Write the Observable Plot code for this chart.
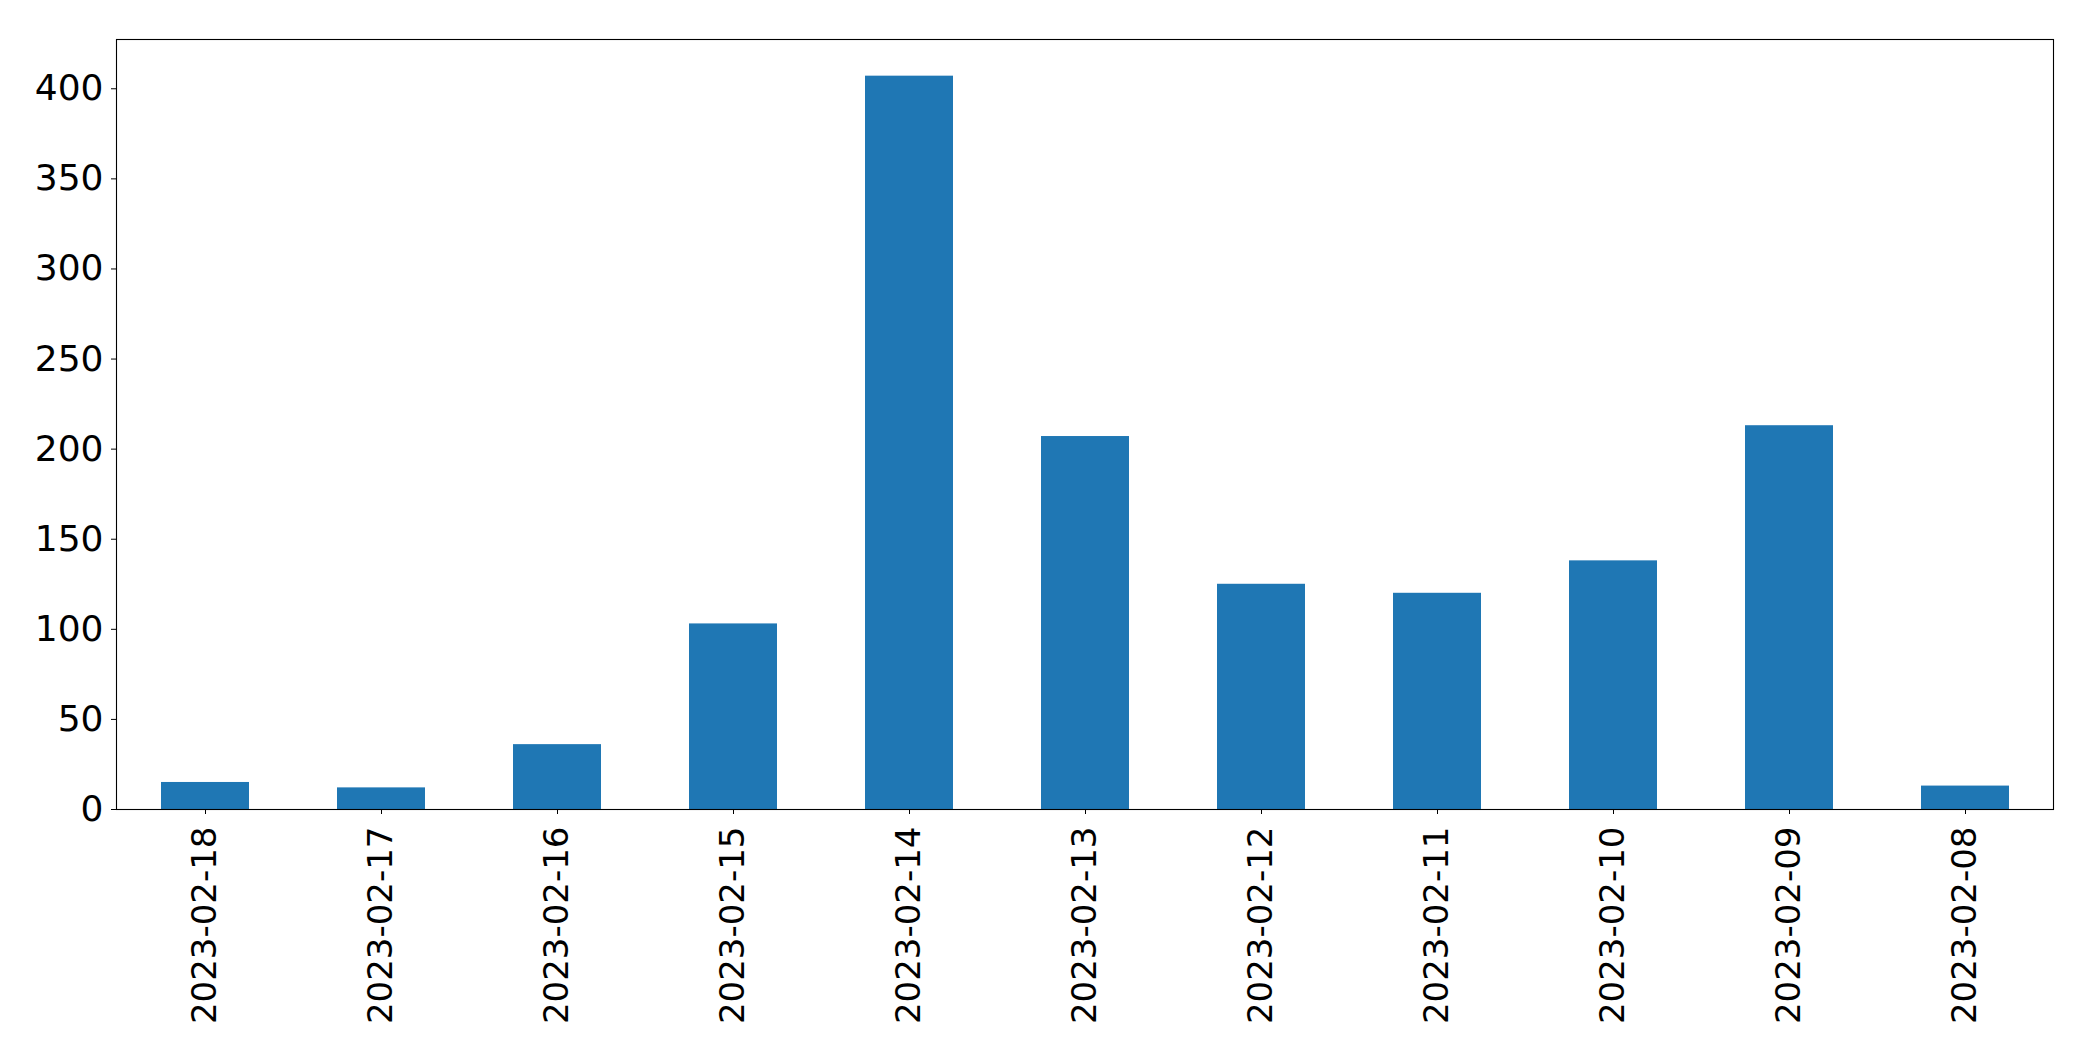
<!DOCTYPE html>
<html>
<head>
<meta charset="utf-8">
<script src="https://cdn.jsdelivr.net/npm/d3@7"></script>
<script src="https://cdn.jsdelivr.net/npm/@observablehq/plot@0.6"></script>
<style>
  html, body { margin: 0; padding: 0; background: #fff; }
  #chart svg { display: block; }
</style>
</head>
<body>
<div id="chart"></div>
<script>
const dates = ["2023-02-18","2023-02-17","2023-02-16","2023-02-15","2023-02-14","2023-02-13","2023-02-12","2023-02-11","2023-02-10","2023-02-09","2023-02-08"];
const counts = [15, 12, 36, 103, 407, 207, 125, 120, 138, 213, 13];
const yTicks = [0, 50, 100, 150, 200, 250, 300, 350, 400];

const data = dates.map((d, i) => ({date: d, count: counts[i]}));
const yMax = d3.max(counts) * 1.05;

const chart = Plot.plot({
  width: 2093,
  height: 1061,
  marginTop: 39,
  marginBottom: 252,
  marginLeft: 116,
  marginRight: 40,
  style: {fontFamily: "DejaVu Sans", fontSize: "36px", color: "black", background: "white"},
  x: {type: "band", domain: dates, paddingInner: 0.5, paddingOuter: 0.25, label: null},
  y: {domain: [0, yMax], label: null},
  marks: [
    Plot.barY(data, {x: "date", y: "count", fill: "#1f77b4"}),
    Plot.axisY({ticks: yTicks, tickSize: 5, tickPadding: 8, label: null, fontSize: 36}),
    Plot.axisX({tickSize: 5, tickPadding: 12, tickRotate: -90, label: null, fontSize: 34}),
    Plot.frame({stroke: "black", strokeWidth: 1.1})
  ]
});
document.getElementById("chart").appendChild(chart);
</script>
</body>
</html>
